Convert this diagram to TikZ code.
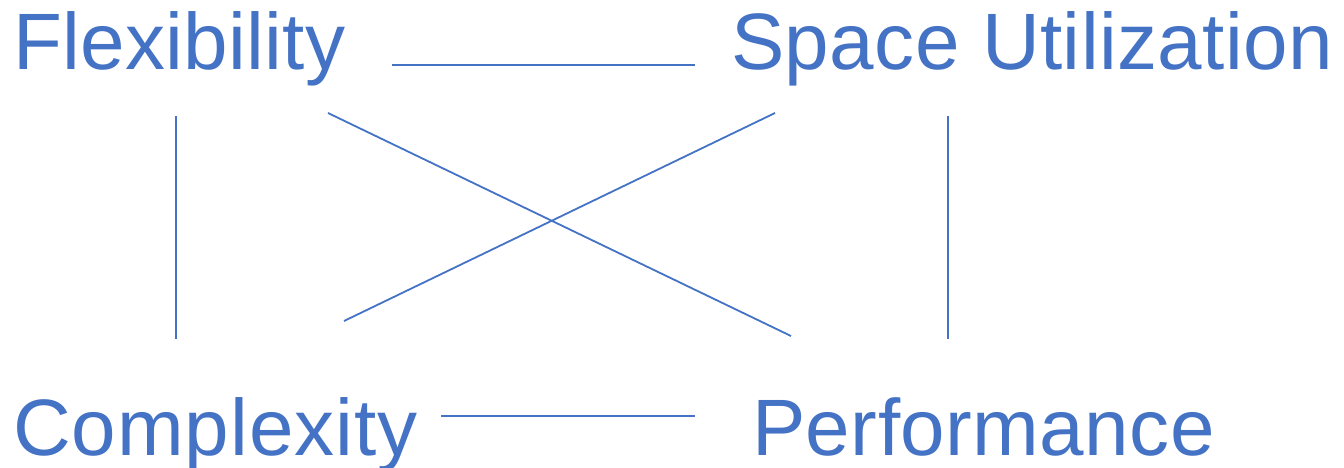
\documentclass[tikz,border=0pt]{standalone}
\usepackage{fontspec}
\setmainfont{Liberation Sans}
\definecolor{ofblue}{HTML}{4472C4}
\begin{document}
\begin{tikzpicture}[x=1pt,y=-1pt,
  lbl/.style={anchor=base west,inner sep=0pt,text=ofblue,font=\fontsize{80}{96}\selectfont},
  link/.style={draw=ofblue,line width=1.8pt}]
\useasboundingbox (0,0) rectangle (1344,468);
\node[lbl] (flex) at (13,70) {\addfontfeature{LetterSpace=0.4}Flexibility};
\node[lbl] (space) at (731,70) {\addfontfeature{LetterSpace=0.5}Space Utilization};
\node[lbl] (comp) at (13,455) {\addfontfeature{LetterSpace=1.2}Complexity};
\node[lbl] (perf) at (752,455) {\addfontfeature{LetterSpace=0.6}Performance};
\coordinate (t1) at (392,65);
\coordinate (t2) at (695,65);
\coordinate (l1) at (176,116);
\coordinate (l2) at (176,339);
\coordinate (r1) at (948,116);
\coordinate (r2) at (948,339);
\coordinate (d1a) at (328,113);
\coordinate (d1b) at (791,336);
\coordinate (d2a) at (775,113);
\coordinate (d2b) at (344,321);
\coordinate (b1) at (441,416);
\coordinate (b2) at (695,416);
\draw[link] (t1) -- (t2);
\draw[link] (l1) -- (l2);
\draw[link] (r1) -- (r2);
\draw[link] (d1a) -- (d1b);
\draw[link] (d2a) -- (d2b);
\draw[link] (b1) -- (b2);
\end{tikzpicture}
\end{document}
